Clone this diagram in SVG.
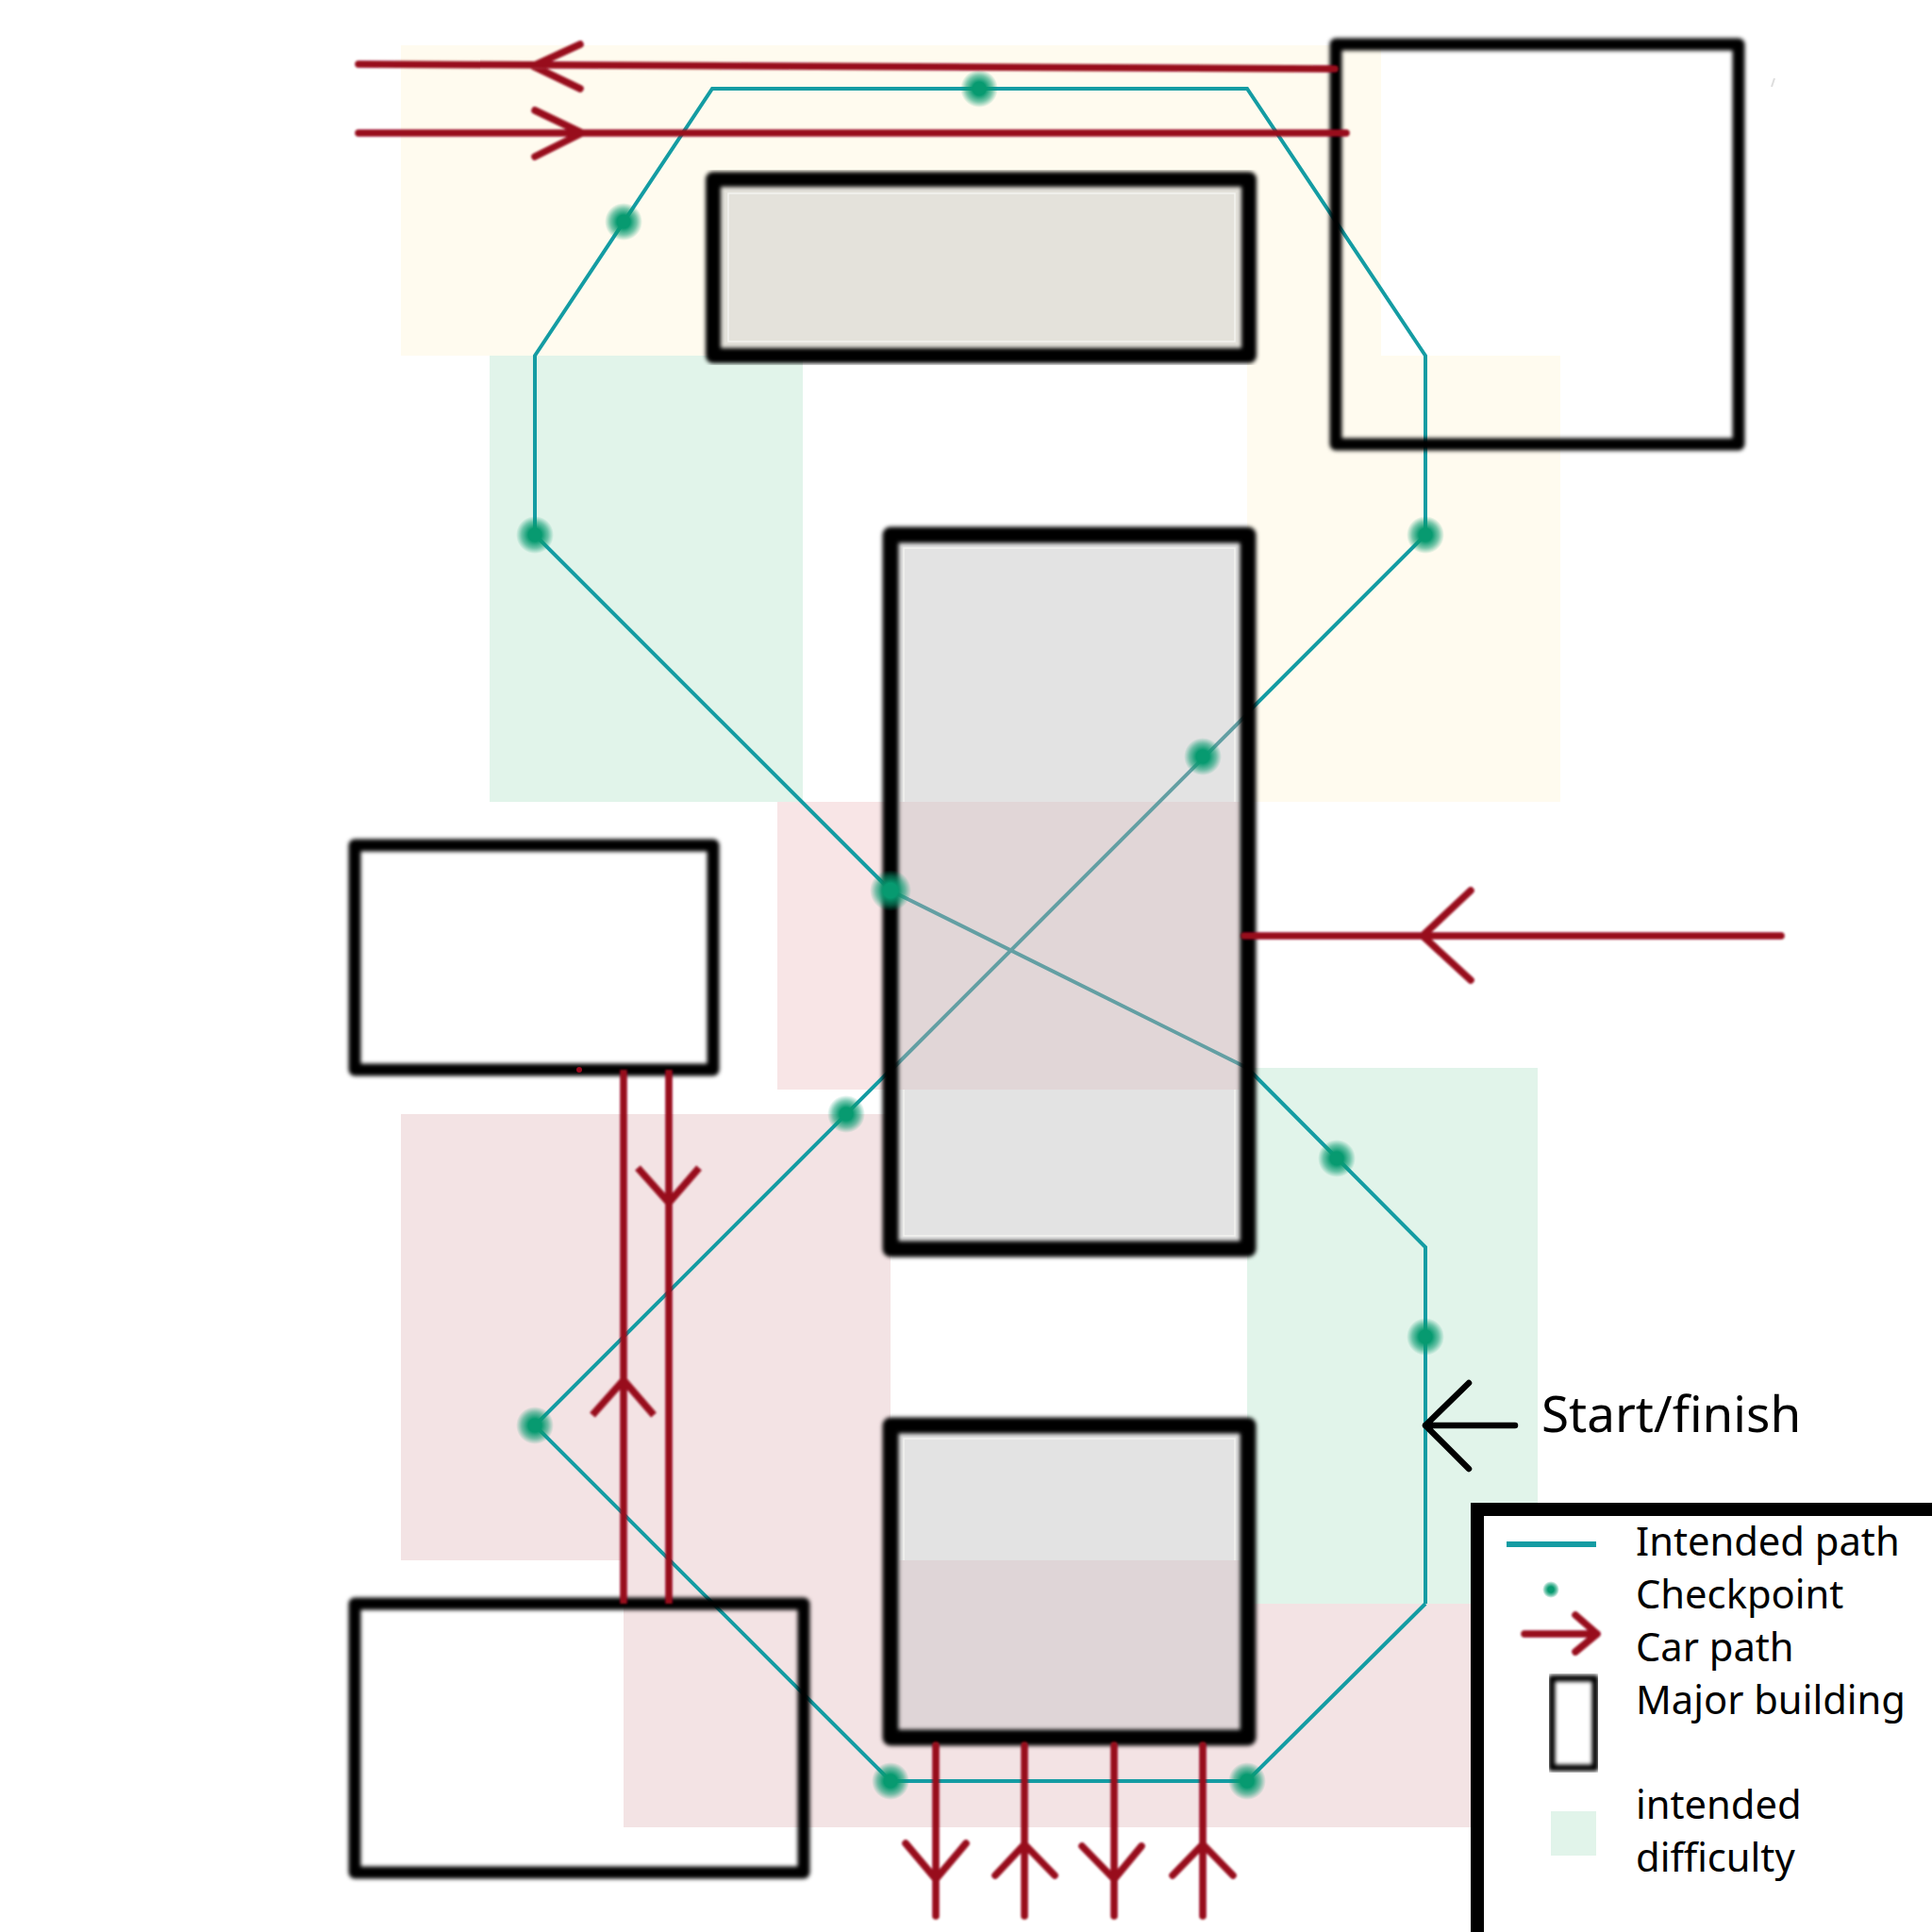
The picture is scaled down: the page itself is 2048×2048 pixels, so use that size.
<svg xmlns="http://www.w3.org/2000/svg" width="2048" height="2048" viewBox="0 0 2048 2048">
<style>
text{font-family:"Noto Sans","Open Sans",sans-serif;fill:#000}
.leg{font-size:41.7px}
.b{fill:none;stroke:#000;stroke-linejoin:round;filter:url(#soft)}
.hl{stroke:#f4f4f1;stroke-width:1.5}
.teal{fill:none;stroke:#149ca3;stroke-width:4}
.tealin{fill:none;stroke:#639fa3;stroke-width:4}
.red{fill:none;stroke:#98081c;stroke-width:7.5;stroke-linecap:round;stroke-linejoin:round;filter:url(#softer)}
.redb{fill:none;stroke:#98081c;stroke-width:7.5;filter:url(#softer)}
.cp{fill:url(#dot)}
</style>
<defs>
<filter id="soft" x="-5%" y="-5%" width="110%" height="110%"><feGaussianBlur stdDeviation="2"/></filter>
<filter id="softer" filterUnits="userSpaceOnUse" x="0" y="0" width="2048" height="2048"><feGaussianBlur stdDeviation="0.8"/></filter>
<radialGradient id="dot"><stop offset="0" stop-color="#079a70"/><stop offset=".35" stop-color="#079a70"/><stop offset=".7" stop-color="#079a70" stop-opacity=".55"/><stop offset="1" stop-color="#079a70" stop-opacity="0"/></radialGradient>
</defs>
<rect width="2048" height="2048" fill="#fff"/>
<g id="zones">
<rect x="425" y="48" width="1039" height="329" fill="#fffbef"/>
<rect x="1322" y="377" width="332" height="473" fill="#fffbef"/>
<rect x="519" y="377" width="332" height="473" fill="#e1f4ea"/>
<rect x="824" y="850" width="498" height="305" fill="#f8e5e6"/>
<rect x="425" y="1181" width="519" height="473" fill="#f3e3e4"/>
<rect x="661" y="1654" width="899" height="283" fill="#f3e3e4"/>
<rect x="1322" y="1132" width="308" height="568" fill="#e1f4ea"/>
</g>
<g id="connectors-path">
<path class="teal" d="M1511 1700V1322L1322 1132L944 944L567 567V377L755 94H1322L1511 377V567L567 1511L944 1888H1322L1511 1700"/>
</g>
<g id="building-1">
<rect x="756" y="190" width="568" height="187" fill="#e4e2db"/>
<rect class="hl" x="772" y="205" width="537" height="157" fill="none"/>
<rect class="b" x="756" y="190" width="568" height="187" stroke-width="16"/>
</g>
<g id="building-3">
<rect x="944" y="567" width="379" height="757" fill="#e3e3e3"/>
<rect class="hl" x="958" y="581" width="351" height="729" fill="none"/>
<rect x="953" y="850" width="361" height="305" fill="#e1d6d7"/>
<path class="tealin" d="M944 944L1322 1132M1322 757L944 1135"/>
<rect class="b" x="944" y="567" width="379" height="757" stroke-width="17"/>
</g>
<g id="building-4">
<rect x="944" y="1511" width="379" height="331" fill="#e3e3e3"/>
<rect class="hl" x="958" y="1525" width="351" height="304" fill="none"/>
<rect x="953" y="1654" width="361" height="180" fill="#dfd5d7"/>
<rect class="b" x="944" y="1511" width="379" height="331" stroke-width="17"/>
</g>
<g id="building-2"><rect class="b" x="1416" y="47" width="427" height="424" stroke-width="13"/></g>
<g id="building-5"><rect class="b" x="376" y="896" width="380" height="238" stroke-width="13"/></g>
<g id="building-6"><rect class="b" x="376" y="1700" width="476" height="285" stroke-width="13"/></g>
<g id="checkpoints">
<circle class="cp" cx="1038" cy="94" r="20"/>
<circle class="cp" cx="661" cy="235" r="20"/>
<circle class="cp" cx="567" cy="567" r="20"/>
<circle class="cp" cx="1511" cy="567" r="20"/>
<circle class="cp" cx="1275" cy="802" r="20"/>
<circle class="cp" cx="944" cy="944" r="22"/>
<circle class="cp" cx="897" cy="1181" r="20"/>
<circle class="cp" cx="1417" cy="1228" r="20"/>
<circle class="cp" cx="1511" cy="1417" r="20"/>
<circle class="cp" cx="567" cy="1511" r="20"/>
<circle class="cp" cx="944" cy="1888" r="20"/>
<circle class="cp" cx="1322" cy="1888" r="20"/>
</g>
<g id="connectors-car">
<path class="red" d="M380 68L1415 73M615 47L565 70L615 94"/>
<path class="red" d="M380 141H1427M567 117L617 141L567 166"/>
<path class="red" d="M1319 992H1888M1559 944L1508 992L1559 1039"/>
<path class="redb" d="M661 1134V1700M628 1500L661 1463L693 1500M709 1134V1700M676 1238L709 1275L741 1238"/>
<circle cx="614" cy="1134" r="3" fill="#98081c"/>
<path class="red" d="M992 1850V2031M960 1954L992 1992L1024 1954"/>
<path class="red" d="M1086 1850V2031M1055 1988L1086 1955L1118 1988"/>
<path class="red" d="M1181 1850V2031M1147 1957L1181 1992L1210 1957"/>
<path class="red" d="M1275 1850V2031M1243 1988L1275 1955L1307 1988"/>
</g>
<path d="M1881 83L1878 92" stroke="#ddd" stroke-width="2" fill="none"/>
<g id="start-finish">
<path d="M1606 1511H1511M1557 1466L1511 1511L1557 1557" fill="none" stroke="#000" stroke-width="6.5" stroke-linecap="round" stroke-linejoin="round"/>
<text x="1634" y="1518" font-size="53">Start/finish</text>
</g>
<g id="legend">
<path d="M1566 2060V1600H2060" fill="#fff" stroke="#000" stroke-width="14"/>
<path d="M1597 1637H1692" stroke="#149ca3" stroke-width="6" fill="none"/>
<circle class="cp" cx="1644" cy="1685" r="9"/>
<path class="red" d="M1616 1732H1693M1670 1712L1693 1732L1670 1751"/>
<rect class="b" x="1645" y="1779" width="46" height="95" stroke-width="7"/>
<rect x="1644" y="1920" width="48" height="47" fill="#e1f4ea"/>
<text class="leg" x="1734" y="1649">Intended path</text>
<text class="leg" x="1734" y="1705">Checkpoint</text>
<text class="leg" x="1734" y="1761">Car path</text>
<text class="leg" x="1734" y="1817">Major building</text>
<text class="leg" x="1734" y="1928">intended</text>
<text class="leg" x="1734" y="1984">difficulty</text>
</g>
</svg>
